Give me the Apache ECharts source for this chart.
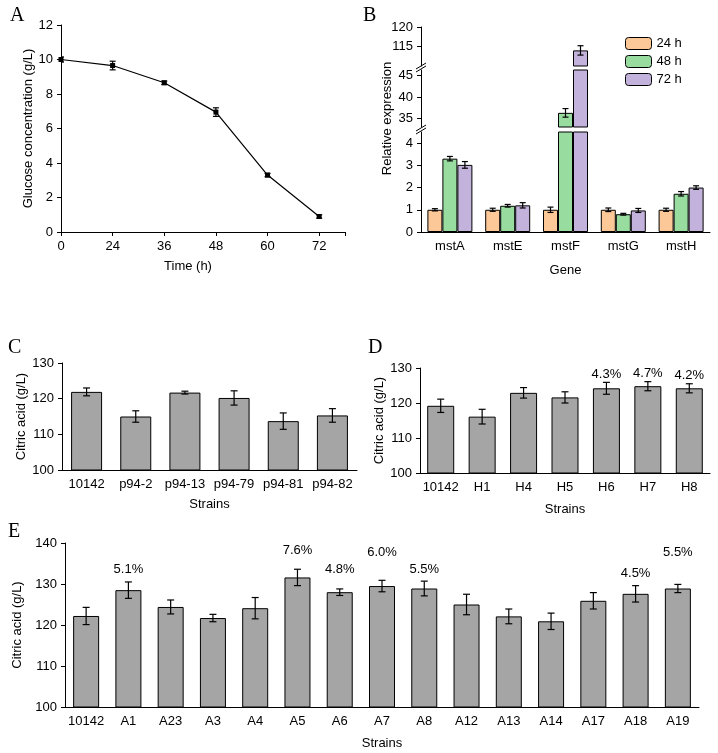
<!DOCTYPE html>
<html>
<head>
<meta charset="UTF-8">
<script src="https://cdn.jsdelivr.net/npm/echarts@6/dist/echarts.min.js"></script>
<style>body{margin:0;background:#fff}</style>
</head>
<body>
<div id="main" style="width:718px;height:753px"></div>
<script>
// Panel A
const timeLabels = ['0', '24', '36', '48', '60', '72'];
const glucose = [10.0, 9.65, 8.65, 6.95, 3.3, 0.9];
const glucoseErr = [0.15, 0.25, 0.1, 0.25, 0.1, 0.1];
// Panel B
const genes = ['mstA', 'mstE', 'mstF', 'mstG', 'mstH'];
const exprNames = ['24 h', '48 h', '72 h'];
const expr = [
    [1.0, 1.0, 1.0, 1.0, 1.0],
    [3.3, 1.18, 36.3, 0.8, 1.72],
    [3.02, 1.2, 114, 0.97, 2.0]
];
const exprErr = [
    [0.05, 0.07, 0.12, 0.08, 0.07],
    [0.1, 0.06, 1.0, 0.04, 0.1],
    [0.15, 0.12, 1.2, 0.09, 0.08]
];
const exprColors = ['#fdc897', '#98dca0', '#c3b2dc'];
// Panel C
const strainsC = ['10142', 'p94-2', 'p94-13', 'p94-79', 'p94-81', 'p94-82'];
const citricC = [121.9, 115.0, 121.7, 120.2, 113.7, 115.3];
const citricCErr = [1.1, 1.6, 0.4, 2.0, 2.3, 1.9];
// Panel D
const strainsD = ['10142', 'H1', 'H4', 'H5', 'H6', 'H7', 'H8'];
const citricD = [119.2, 116.1, 122.9, 121.6, 124.2, 124.8, 124.2];
const citricDErr = [1.9, 2.1, 1.5, 1.6, 1.7, 1.3, 1.3];
const pctD = [null, null, null, null, '4.3%', '4.7%', '4.2%'];
const pctDPos = [null, null, null, null, 128.3, 128.5, 127.8];
// Panel E
const strainsE = ['10142', 'A1', 'A23', 'A3', 'A4', 'A5', 'A6', 'A7', 'A8', 'A12', 'A13', 'A14', 'A17', 'A18', 'A19'];
const citricE = [122.2, 128.5, 124.4, 121.7, 124.1, 131.6, 128.0, 129.5, 128.9, 125.0, 122.1, 120.9, 125.9, 127.6, 128.9];
const citricEErr = [2.1, 2.0, 1.7, 0.9, 2.6, 2.0, 0.8, 1.4, 1.8, 2.5, 1.8, 2.0, 2.0, 2.0, 1.0];
const pctE = [null, '5.1%', null, null, null, '7.6%', '4.8%', '6.0%', '5.5%', null, null, null, null, '4.5%', '5.5%'];
const pctEPos = [null, 133.5, null, null, null, 138.2, 133.5, 137.6, 133.5, null, null, null, null, 132.5, 137.8];

const FONT = 'Liberation Sans';
const axisCommon = {
    axisLine: { show: true, lineStyle: { color: '#000', width: 1 } },
    axisTick: { show: true, inside: false, length: 4, lineStyle: { color: '#000' } },
    axisLabel: { color: '#000', fontSize: 13, fontFamily: FONT },
    splitLine: { show: false }
};
const nameStyle = { fontSize: 13, fontFamily: FONT, color: '#000' };

function errSeries(xi, yi, vals, errs, offset, cap) {
    return {
        type: 'custom', xAxisIndex: xi, yAxisIndex: yi, clip: true, z: 5,
        data: vals.map((v, i) => [i, v, errs[i]]),
        renderItem: (params, api) => {
            const x = api.value(0), y = api.value(1), e = api.value(2);
            const lo = api.coord([x, y - e]), hi = api.coord([x, y + e]);
            const cx = lo[0] + offset;
            const s = { stroke: '#000', lineWidth: 1.2 };
            return {
                type: 'group', children: [
                    { type: 'line', shape: { x1: cx, y1: lo[1], x2: cx, y2: hi[1] }, style: s },
                    { type: 'line', shape: { x1: cx - cap, y1: lo[1], x2: cx + cap, y2: lo[1] }, style: s },
                    { type: 'line', shape: { x1: cx - cap, y1: hi[1], x2: cx + cap, y2: hi[1] }, style: s }
                ]
            };
        }
    };
}

function pctSeries(xi, yi, labels, pos) {
    return {
        type: 'scatter', xAxisIndex: xi, yAxisIndex: yi, symbolSize: 1, itemStyle: { opacity: 0 },
        data: labels.map((l, i) => l ? { value: [i, pos[i]], label: { show: true, formatter: l } } : null).filter(d => d),
        label: { position: 'inside', color: '#000', fontSize: 13, fontFamily: FONT, opacity: 1 }
    };
}

const grids = [
    { left: 61, top: 25, width: 284, height: 207 },   // 0 A
    { left: 421, top: 132, width: 289, height: 100 }, // 1 B bottom
    { left: 421, top: 70, width: 289, height: 57 },   // 2 B middle
    { left: 421, top: 27, width: 289, height: 39 },   // 3 B top
    { left: 62, top: 363, width: 295, height: 107 },  // 4 C
    { left: 420, top: 368, width: 290, height: 105 }, // 5 D
    { left: 65, top: 543, width: 634, height: 164 }   // 6 E
];

const catAxis = (gi, data, extra) => Object.assign({
    type: 'category', gridIndex: gi, data: data, ...axisCommon,
    axisTick: { show: false },
    axisLabel: { ...axisCommon.axisLabel, interval: 0, fontSize: 13 }
}, extra || {});

const xAxis = [
    { type: 'value', gridIndex: 0, min: 0, max: 5.5, interval: 1, ...axisCommon,
      axisLabel: { ...axisCommon.axisLabel, formatter: v => timeLabels[v] || '' },
      name: 'Time (h)', nameLocation: 'middle', nameGap: 28,
      nameTextStyle: { ...nameStyle, padding: [0, 0, 0, -30] } },
    catAxis(1, genes, { name: 'Gene', nameLocation: 'middle', nameGap: 32, nameTextStyle: nameStyle }),
    catAxis(2, genes, { show: false }),
    catAxis(3, genes, { show: false }),
    catAxis(4, strainsC, { name: 'Strains', nameLocation: 'middle', nameGap: 28, nameTextStyle: nameStyle }),
    catAxis(5, strainsD, { name: 'Strains', nameLocation: 'middle', nameGap: 30, nameTextStyle: nameStyle }),
    catAxis(6, strainsE, { name: 'Strains', nameLocation: 'middle', nameGap: 30, nameTextStyle: nameStyle })
];

const yName = (n, gap) => ({ name: n, nameLocation: 'middle', nameGap: gap, nameTextStyle: { ...nameStyle } });

const yAxis = [
    { type: 'value', gridIndex: 0, min: 0, max: 12, interval: 2, ...axisCommon, ...yName('Glucose concentration (g/L)', 24) },
    { type: 'value', gridIndex: 1, min: 0, max: 4.5, ...axisCommon,
      axisLabel: { ...axisCommon.axisLabel, customValues: [0, 1, 2, 3, 4] },
      axisTick: { ...axisCommon.axisTick, customValues: [0, 1, 2, 3, 4] } },
    { type: 'value', gridIndex: 2, min: 33, max: 46.3, ...axisCommon,
      axisLabel: { ...axisCommon.axisLabel, customValues: [35, 40, 45] },
      axisTick: { ...axisCommon.axisTick, customValues: [35, 40, 45] },
      ...yName('Relative expression', 27) },
    { type: 'value', gridIndex: 3, min: 110, max: 120, ...axisCommon,
      axisLabel: { ...axisCommon.axisLabel, customValues: [115, 120] },
      axisTick: { ...axisCommon.axisTick, customValues: [115, 120] } },
    { type: 'value', gridIndex: 4, min: 100, max: 130, interval: 10, ...axisCommon, ...yName('Citric acid (g/L)', 30) },
    { type: 'value', gridIndex: 5, min: 100, max: 130, interval: 10, ...axisCommon, ...yName('Citric acid (g/L)', 30) },
    { type: 'value', gridIndex: 6, min: 100, max: 140, interval: 10, ...axisCommon, ...yName('Citric acid (g/L)', 30) }
];
yAxis[2].nameTextStyle.padding = [0, 0, 0, -40];

const series = [];
// A
series.push({ type: 'line', xAxisIndex: 0, yAxisIndex: 0, data: glucose.map((v, i) => [i, v]),
    symbol: 'rect', symbolSize: 5, itemStyle: { color: '#000' }, lineStyle: { color: '#000', width: 1.2 } });
series.push(errSeries(0, 0, glucose, glucoseErr, 0, 3));
// B
const bw = 15;
[1, 2, 3].forEach(g => {
    expr.forEach((vals, s) => {
        series.push({ type: 'bar', name: exprNames[s], xAxisIndex: g, yAxisIndex: g, data: vals,
            barWidth: bw, barGap: '0%', itemStyle: { color: exprColors[s], borderColor: '#000', borderWidth: 1 } });
    });
    expr.forEach((vals, s) => series.push(errSeries(g, g, vals, exprErr[s], (s - 1) * bw, 3)));
});
// C, D, E
const grey = { color: '#a5a5a5', borderColor: '#000', borderWidth: 1 };
series.push({ type: 'bar', xAxisIndex: 4, yAxisIndex: 4, data: citricC, barWidth: 31, itemStyle: grey });
series.push(errSeries(4, 4, citricC, citricCErr, 0, 3.5));
series.push({ type: 'bar', xAxisIndex: 5, yAxisIndex: 5, data: citricD, barWidth: 27, itemStyle: grey });
series.push(errSeries(5, 5, citricD, citricDErr, 0, 3.5));
series.push(pctSeries(5, 5, pctD, pctDPos));
series.push({ type: 'bar', xAxisIndex: 6, yAxisIndex: 6, data: citricE, barWidth: 26, itemStyle: grey });
series.push(errSeries(6, 6, citricE, citricEErr, 0, 3.5));
series.push(pctSeries(6, 6, pctE, pctEPos));

const letter = (t, x, y) => ({ type: 'text', left: x, top: y,
    style: { text: t, font: '20px "Liberation Serif"', fill: '#000' } });
const brk = (y) => ({ type: 'line', shape: { x1: 416, y1: y + 3, x2: 426, y2: y - 3 },
    style: { stroke: '#000', lineWidth: 1 } });

const chart = echarts.init(document.getElementById('main'));
chart.setOption({
    animation: false,
    grid: grids,
    xAxis: xAxis,
    yAxis: yAxis,
    series: series,
    legend: {
        data: exprNames, orient: 'vertical', left: 620, top: 32, itemGap: 5,
        itemWidth: 26, itemHeight: 12, textStyle: { fontSize: 13, fontFamily: FONT, color: '#000' },
        itemStyle: { borderColor: '#000', borderWidth: 1 }
    },
    graphic: [
        letter('A', 10, 6), letter('B', 363, 6), letter('C', 8, 338), letter('D', 368, 338), letter('E', 8, 522),
        brk(128), brk(131), brk(66), brk(69)
    ]
});
</script>
</body>
</html>
